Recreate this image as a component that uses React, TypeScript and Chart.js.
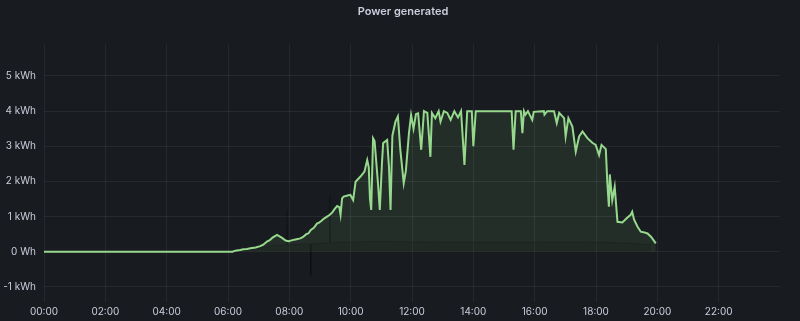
import React, { useEffect, useRef } from "react";
import { Chart, registerables } from "chart.js";

Chart.register(...registerables);

const TITLE = "Power generated";
const SERIES_NAME = "Power generated";

const xTickValues = [0, 2, 4, 6, 8, 10, 12, 14, 16, 18, 20, 22];
const xTickLabels = ["00:00", "02:00", "04:00", "06:00", "08:00", "10:00", "12:00", "14:00", "16:00", "18:00", "20:00", "22:00"];
const yTickValues = [-1, 0, 1, 2, 3, 4, 5];
const yTickLabels = ["-1 kWh", "0 Wh", "1 kWh", "2 kWh", "3 kWh", "4 kWh", "5 kWh"];

// hours of day
const powerTimes = [
  0, 6.15, 6.24, 6.4, 6.5, 6.62, 6.73, 6.9, 7.05, 7.15, 7.27, 7.36, 7.45, 7.6, 7.75, 7.88, 7.98, 8.1, 8.2, 8.36,
  8.45, 8.55, 8.62, 8.7, 8.8, 8.9, 8.97, 9.05, 9.14, 9.23, 9.32, 9.4, 9.48, 9.56, 9.63, 9.67, 9.72, 9.77, 9.9, 9.99,
  10.08, 10.16, 10.32, 10.45, 10.54, 10.59, 10.63, 10.67, 10.73, 10.78, 10.84, 10.89, 10.95, 11.02, 11.06, 11.19, 11.25, 11.3, 11.36, 11.46,
  11.54, 11.62, 11.73, 11.8, 11.9, 11.97, 12.05, 12.13, 12.2, 12.3, 12.39, 12.5, 12.6, 12.65, 12.76, 12.87, 12.93, 13.04, 13.15, 13.26,
  13.38, 13.5, 13.6, 13.71, 13.8, 13.95, 14.0, 14.08, 15.25, 15.31, 15.38, 15.55, 15.6, 15.65, 15.7, 15.78, 15.92, 15.97, 16.3, 16.32,
  16.41, 16.63, 16.72, 16.8, 16.96, 17.01, 17.1, 17.23, 17.34, 17.45, 17.56, 17.72, 17.88, 17.99, 18.1, 18.18, 18.32, 18.37, 18.42, 18.45,
  18.53, 18.61, 18.7, 18.86, 19.0, 19.13, 19.18, 19.24, 19.35, 19.46, 19.58, 19.68, 19.8, 19.95,
];
// kWh
const powerValues = [
  0, 0, 0.03, 0.05, 0.07, 0.08, 0.1, 0.12, 0.16, 0.2, 0.29, 0.33, 0.4, 0.48, 0.4, 0.32, 0.3, 0.33, 0.35, 0.38,
  0.42, 0.5, 0.52, 0.62, 0.68, 0.8, 0.83, 0.88, 0.95, 1.0, 1.05, 1.12, 1.22, 1.3, 1.27, 1.05, 1.52, 1.57, 1.6, 1.62,
  1.47, 1.99, 2.14, 2.28, 2.61, 2.4, 1.5, 1.19, 3.23, 3.15, 2.5, 1.95, 1.19, 2.52, 3.09, 3.18, 2.4, 1.19, 3.3, 3.7,
  3.85, 2.9, 1.95, 2.3, 3.37, 3.89, 3.5, 3.92, 3.94, 2.9, 4.0, 3.95, 2.7, 3.95, 3.8, 4.0, 3.7, 4.0, 3.95, 3.75,
  4.0, 3.82, 4.0, 2.47, 4.0, 4.0, 3.0, 4.0, 4.0, 2.9, 4.0, 4.0, 3.37, 4.0, 3.9, 4.0, 3.75, 3.98, 4.0, 3.9,
  4.0, 4.0, 3.66, 3.95, 3.8, 3.28, 3.8, 3.56, 2.85, 3.28, 3.42, 3.23, 3.1, 3.04, 2.75, 3.04, 2.92, 1.95, 1.28, 2.2,
  1.47, 1.85, 0.85, 0.83, 0.95, 1.05, 1.14, 0.92, 0.72, 0.57, 0.55, 0.52, 0.42, 0.24,
];

// darker underlying band
const baseTimes = [6.2, 7.0, 7.5, 7.9, 7.92, 7.94, 8.3, 8.68, 8.7, 8.72, 9.0, 9.3, 9.32, 9.34, 9.8, 10.2, 11.0, 12.0, 13.0, 14.0, 15.0, 16.0, 17.0, 18.0, 18.5, 19.0, 19.5, 19.8];
const baseValues = [0, 0.1, 0.18, 0.2, 1.2, 0.2, 0.22, 0.22, -0.7, 0.22, 0.24, 0.25, 1.6, 0.25, 0.28, 0.28, 0.3, 0.28, 0.27, 0.27, 0.26, 0.27, 0.28, 0.27, 0.26, 0.25, 0.22, 0.2];

const TEXT = "#ccccdc";
const GRID = "rgba(204,204,220,0.08)";
const GREEN = "#96d98d";
const BG = "#181b1f";

export default function App() {
  const ref = useRef<HTMLCanvasElement | null>(null);

  useEffect(() => {
    document.body.style.margin = "0";
    document.body.style.background = BG;
    const canvas = ref.current!;
    const chart = new Chart(canvas, {
      type: "line",
      data: {
        datasets: [
          {
            label: SERIES_NAME,
            data: powerTimes.map((t, i) => ({ x: t, y: powerValues[i] })),
            borderColor: GREEN,
            backgroundColor: "rgba(150,217,141,0.10)",
            borderWidth: 2,
            pointRadius: 0,
            fill: "origin",
            tension: 0,
            order: 1,
          },
          {
            label: "base",
            data: baseTimes.map((t, i) => ({ x: t, y: baseValues[i] })),
            borderColor: "rgba(10,12,14,0.2)",
            backgroundColor: "rgba(10,12,14,0.3)",
            borderWidth: 1,
            pointRadius: 0,
            fill: "origin",
            tension: 0,
            order: 2,
          },
        ],
      },
      options: {
        animation: false,
        responsive: false,
        devicePixelRatio: 1,
        layout: { padding: { left: 0, right: 20, top: 44, bottom: 0 } },
        plugins: {
          legend: { display: false },
          tooltip: { enabled: false },
          filler: { drawTime: "beforeDatasetsDraw" },
          title: { display: false },
        },
        scales: {
          x: {
            type: "linear",
            min: 0,
            max: 24,
            afterFit: (s: any) => {
              s.height = 19;
            },
            afterBuildTicks: (s: any) => {
              s.ticks = xTickValues.map((v) => ({ value: v }));
            },
            ticks: {
              color: TEXT,
              font: { family: "Inter", size: 10 },
              padding: 4,
              maxRotation: 0,
              autoSkip: false,
              callback: (v: any) => {
                const i = xTickValues.indexOf(Number(v));
                return i >= 0 ? xTickLabels[i] : "";
              },
            },
            grid: { color: GRID, drawTicks: false },
            border: { display: false },
          },
          y: {
            type: "linear",
            min: -1.43,
            max: 5.91,
            afterFit: (s: any) => {
              s.width = 44;
            },
            afterBuildTicks: (s: any) => {
              s.ticks = yTickValues.map((v) => ({ value: v }));
            },
            ticks: {
              color: TEXT,
              font: { family: "Inter", size: 10 },
              padding: 8,
              callback: (v: any) => {
                const i = yTickValues.indexOf(Number(v));
                return i >= 0 ? yTickLabels[i] : "";
              },
            },
            grid: { color: GRID, drawTicks: false },
            border: { display: false },
          },
        },
      },
    });
    return () => chart.destroy();
  }, []);

  return (
    <div style={{ position: "fixed", left: 0, top: 0, width: 800, height: 321, background: BG }}>
      <div
        style={{
          position: "absolute",
          left: 303,
          top: 3,
          width: 200,
          textAlign: "center",
          fontFamily: "Inter",
          fontSize: 11,
          fontWeight: 600,
          lineHeight: "16px",
          color: TEXT,
        }}
      >
        {TITLE}
      </div>
      <canvas ref={ref} width={800} height={321} style={{ width: 800, height: 321, display: "block" }} />
    </div>
  );
}
